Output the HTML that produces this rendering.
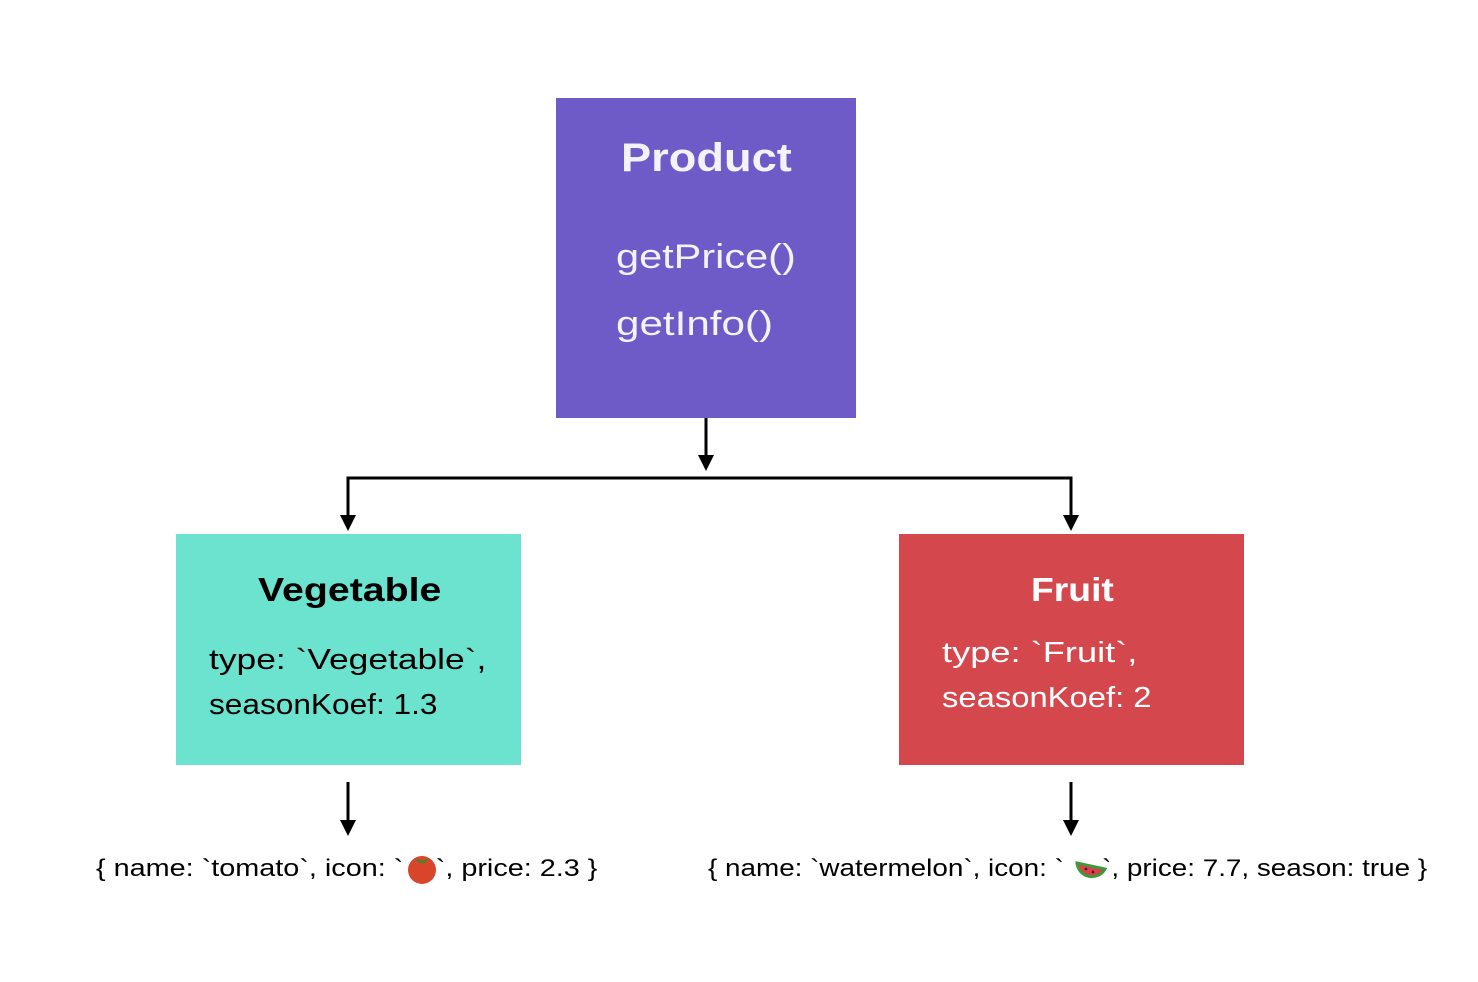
<!DOCTYPE html>
<html><head><style>
body{margin:0;width:1478px;height:982px;background:#fff;position:relative;font-family:"Liberation Sans",sans-serif;overflow:hidden}
.b{position:absolute}
.t{position:absolute;white-space:nowrap;line-height:1;transform-origin:0 0}
</style></head><body>
<div class="b" style="left:556px;top:98px;width:300px;height:320px;background:#6e5bc8"></div>
<div class="b" style="left:176px;top:534px;width:345px;height:231px;background:#6ce3cf"></div>
<div class="b" style="left:899px;top:534px;width:345px;height:231px;background:#d4484d"></div>
<svg class="b" style="left:0;top:0" width="1478" height="982">
<g stroke="#000" stroke-width="3" fill="none">
<line x1="706" y1="418" x2="706" y2="458"/>
<polyline points="348,518 348,478 1071,478 1071,518"/>
<line x1="348" y1="782" x2="348" y2="823"/>
<line x1="1071" y1="782" x2="1071" y2="823"/>
</g>
<g fill="#000">
<polygon points="698,455 714,455 706,471"/>
<polygon points="340,515 356,515 348,531"/>
<polygon points="1063,515 1079,515 1071,531"/>
<polygon points="340,820 356,820 348,836"/>
<polygon points="1063,820 1079,820 1071,836"/>
</g>
</svg>
<div class="t" style="left:621px;top:138px;font-size:40px;font-weight:bold;color:#f4f2fb;transform:scaleX(1.13)">Product</div>
<div class="t" style="left:616px;top:240px;font-size:34px;color:#f4f2fb;transform:scaleX(1.22)">getPrice()</div>
<div class="t" style="left:616px;top:307px;font-size:34px;color:#f4f2fb;transform:scaleX(1.24)">getInfo()</div>
<div class="t" style="left:258px;top:573px;font-size:33px;font-weight:bold;color:#000;transform:scaleX(1.19)">Vegetable</div>
<div class="t" style="left:209px;top:646px;font-size:29px;color:#000;transform:scaleX(1.22)">type: `Vegetable`,</div>
<div class="t" style="left:209px;top:691px;font-size:29px;color:#000;transform:scaleX(1.09)">seasonKoef: 1.3</div>
<div class="t" style="left:1031px;top:573px;font-size:33px;font-weight:bold;color:#fff;transform:scaleX(1.13)">Fruit</div>
<div class="t" style="left:942px;top:639px;font-size:29px;color:#fff;transform:scaleX(1.25)">type: `Fruit`,</div>
<div class="t" style="left:942px;top:684px;font-size:29px;color:#fff;transform:scaleX(1.13)">seasonKoef: 2</div>
<div class="t" style="left:96px;top:857px;font-size:24px;color:#000;transform:scaleX(1.2)">{ name: `tomato`, icon: `<span style="display:inline-block;width:27px"></span>`, price: 2.3 }</div>
<div class="t" style="left:708px;top:857px;font-size:24px;color:#000;transform:scaleX(1.16)">{ name: `watermelon`, icon: `<span style="display:inline-block;width:33px"></span>`, price: 7.7, season: true }</div>
<svg class="b" style="left:405px;top:853px" width="34" height="32"><circle cx="17" cy="17" r="14" fill="#d9452b"/><path d="M10 6 L17 8 L24 5 L20 10 L14 10Z" fill="#3a8a2a"/></svg>
<svg class="b" style="left:1074px;top:855px" width="34" height="30"><path d="M3 8 A15 15 0 0 0 31 14 Z" fill="#e23b4a" stroke="#3c9a3a" stroke-width="3"/><circle cx="12" cy="14" r="1.3" fill="#222"/><circle cx="19" cy="17" r="1.3" fill="#222"/></svg>
</body></html>
